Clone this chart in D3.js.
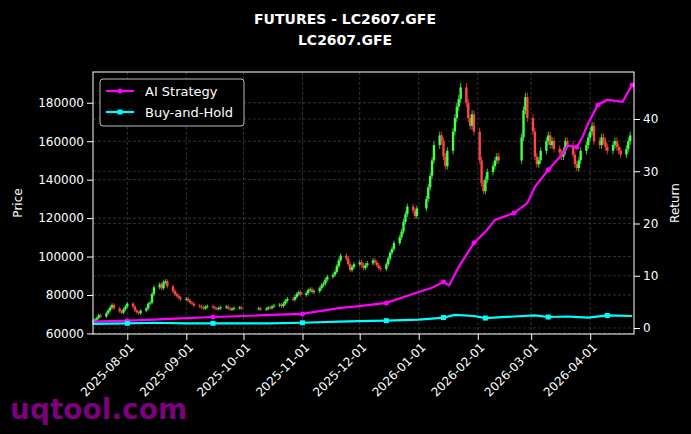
<!DOCTYPE html><html><head><meta charset="utf-8"><script src="https://cdn.jsdelivr.net/npm/d3@7"></script>
<style>body{margin:0;background:#000}svg{display:block}text{font-family:"DejaVu Sans",sans-serif}</style></head><body><svg id="c" width="691" height="434"></svg>
<script>
const segments=[
{start:"2025-07-14",closes:[66500,67200,68000,69500,68800,70500,72000,73500,74800,73000,71500,70800,72500,74000]},
{start:"2025-08-01",closes:[75500,74000,72000,71000,70500,71800,73000,75500,76000,80500,84000,85500,83500,86500,87200,84500,82000,80500,79500,78500,77800]},
{start:"2025-09-01",closes:[78000,77000,76000,75500,74500,74000,73500,73000,73800,74200,73500,73000,72800,73200,73600,74000,73000,72500,72800,73200,73500,73000]},
{start:"2025-10-09",closes:[73000,72500,72800,73500,73200,74000,74500,75000,74200,75500,77000,78000,77500,79000,80500,81500,80000]},
{start:"2025-11-03",closes:[81000,82500,83000,81500,82000,83500,85000,86000,88000,89500,90500,92000,95000,98000,100500,99000,96000,93000,94500,96000]},
{start:"2025-12-01",closes:[97000,95500,94000,95500,96500,98000,97000,95500,94000,93500,96000,99000,102000,104000,107000,110000,113000,118000,122000,126000,124000,121000,125000]},
{start:"2026-01-05",closes:[130000,136000,142000,150000,158000,163000,160000,152000,147000,155000,165000,172000,178000,182000,188000,180000,172000,168000,174000,165000]},
{start:"2026-02-02",closes:[150000,138000,134000,140000,144000,147000,150000,152000,150000]},
{start:"2026-02-24",closes:[162000,176000,183000,172000]},
{start:"2026-03-02",closes:[165000,152000,148000,150000,155000,160000,163000,158000,160000,156000,154000,152000,155000,160000,158000,153000,148000,146000,150000,155000,158000,162000]},
{start:"2026-04-01",closes:[165000,168000,160000,158000,162000,160000,157000,155000,158000,160000,157000,155000,153000,156000,160000,163000]}];
const aiDates=["2025-07-14","2025-08-01","2025-08-15","2025-09-01","2025-09-15","2025-10-01","2025-10-15","2025-11-01","2025-11-20","2025-12-01","2025-12-15","2026-01-01","2026-01-08","2026-01-14","2026-01-17","2026-01-22","2026-01-30","2026-02-05","2026-02-10","2026-02-20","2026-02-27","2026-03-03","2026-03-10","2026-03-18","2026-03-20","2026-03-25","2026-03-28","2026-03-31","2026-04-05","2026-04-10","2026-04-18","2026-04-23"];
const aiVals=[1.2,1.4,1.6,1.9,2.1,2.3,2.5,2.7,3.8,4.2,4.8,6.9,7.7,8.8,8.2,11.7,16.3,18.4,20.7,22,23.9,27,30.3,33.5,34.9,34.6,36.6,39.2,42.7,43.7,43.3,46.5];
const bhDates=["2025-07-14","2025-08-01","2025-08-15","2025-09-01","2025-09-15","2025-10-01","2025-10-15","2025-11-01","2025-11-20","2025-12-01","2025-12-15","2026-01-01","2026-01-08","2026-01-14","2026-01-20","2026-01-30","2026-02-05","2026-02-20","2026-03-03","2026-03-10","2026-03-20","2026-03-31","2026-04-10","2026-04-23"];
const bhVals=[0.8,0.9,1.0,0.9,0.9,0.9,0.9,1.0,1.2,1.3,1.4,1.6,1.8,2.0,2.5,2.3,1.9,2.2,2.4,2.1,2.2,2.0,2.4,2.3];
const priceTicks=[60000,80000,100000,120000,140000,160000,180000];
const retTicks=[0,10,20,30,40];
const dateTicks=["2025-08-01","2025-09-01","2025-10-01","2025-11-01","2025-12-01","2026-01-01","2026-02-01","2026-03-01","2026-04-01"];

const P=d3.timeParse("%Y-%m-%d");
const candles=[];
segments.forEach(s=>{let d=P(s.start);s.closes.forEach(c=>{while(d.getDay()==0||d.getDay()==6)d=d3.timeDay.offset(d,1);candles.push({d:new Date(d),c});d=d3.timeDay.offset(d,1);});});
candles.forEach((k,i)=>{k.o=i?candles[i-1].c:k.c*0.99;k.h=Math.max(k.o,k.c)*1.012;k.l=Math.min(k.o,k.c)*0.988;});

const svg=d3.select("#c");
svg.append("rect").attr("width",691).attr("height",434).attr("fill","#000");
const L=93,R=634,T=72,B=334;
const x=d3.scaleTime().domain([P("2025-07-14"),P("2026-04-24")]).range([L,R]);
const y=d3.scaleLinear().domain([59700,196000]).range([B,T]);
const y2=d3.scaleLinear().domain([-1.15,49]).range([B,T]);
const g=svg.append("g");
g.selectAll(".gx").data(dateTicks).join("line").attr("x1",d=>x(P(d))).attr("x2",d=>x(P(d))).attr("y1",T).attr("y2",B).attr("stroke","#555").attr("stroke-dasharray","3,2").attr("stroke-width",0.6);
g.selectAll(".gy").data(priceTicks).join("line").attr("x1",L).attr("x2",R).attr("y1",d=>y(d)).attr("y2",d=>y(d)).attr("stroke","#555").attr("stroke-dasharray","3,2").attr("stroke-width",0.6);
g.selectAll(".gy2").data(retTicks).join("line").attr("x1",L).attr("x2",R).attr("y1",d=>y2(d)).attr("y2",d=>y2(d)).attr("stroke","#444").attr("stroke-dasharray","3,2").attr("stroke-width",0.6);
const cg=svg.append("g");
candles.forEach(k=>{const col=k.c>=k.o?"#44ff44":"#ff4444";const cx=x(k.d);
cg.append("line").attr("x1",cx).attr("x2",cx).attr("y1",y(k.h)).attr("y2",y(k.l)).attr("stroke",col).attr("stroke-width",0.8);
cg.append("rect").attr("x",cx-1.2).attr("width",2.4).attr("y",y(Math.max(k.o,k.c))).attr("height",Math.max(1,Math.abs(y(k.o)-y(k.c)))).attr("fill",col);});
function series(dates,vals,col,shape){const pts=dates.map((d,i)=>[x(P(d)),y2(vals[i])]);
svg.append("path").attr("d",d3.line()(pts)).attr("fill","none").attr("stroke",col).attr("stroke-width",2.2);
pts.forEach((p,i)=>{if(i%3==1){if(shape=="c")svg.append("circle").attr("cx",p[0]).attr("cy",p[1]).attr("r",2.5).attr("fill",col);else svg.append("rect").attr("x",p[0]-2.5).attr("y",p[1]-2.5).attr("width",5).attr("height",5).attr("fill",col);}});}
series(aiDates,aiVals,"#ff00ff","c");
series(bhDates,bhVals,"#00ffff","s");
svg.append("rect").attr("x",L).attr("y",T).attr("width",R-L).attr("height",B-T).attr("fill","none").attr("stroke","#fff").attr("stroke-width",1);
const ax=svg.append("g").attr("transform",`translate(0,${B})`).call(d3.axisBottom(x).tickValues(dateTicks.map(P)).tickFormat(d3.timeFormat("%Y-%m-%d")).tickSizeOuter(0));
ax.selectAll("text").attr("transform","rotate(-45)").attr("text-anchor","end").attr("dx","-0.4em").attr("dy","0.5em");
const ay=svg.append("g").attr("transform",`translate(${L},0)`).call(d3.axisLeft(y).tickValues(priceTicks).tickFormat(d3.format("d")).tickSizeOuter(0));
const ay2=svg.append("g").attr("transform",`translate(${R},0)`).call(d3.axisRight(y2).tickValues(retTicks).tickSizeOuter(0));
[ax,ay,ay2].forEach(a=>{a.select(".domain").remove();a.selectAll("line").attr("stroke","#fff");a.selectAll("text").attr("fill","#fff").attr("font-size",12);});
svg.append("text").attr("x",345).attr("y",24).attr("text-anchor","middle").attr("fill","#fff").attr("font-weight","bold").attr("font-size",14).text("FUTURES - LC2607.GFE");
svg.append("text").attr("x",345).attr("y",45).attr("text-anchor","middle").attr("fill","#fff").attr("font-weight","bold").attr("font-size",14).text("LC2607.GFE");
svg.append("text").attr("transform","translate(22,203) rotate(-90)").attr("text-anchor","middle").attr("fill","#fff").attr("font-size",12).text("Price");
svg.append("text").attr("transform","translate(679,203) rotate(-90)").attr("text-anchor","middle").attr("fill","#fff").attr("font-size",12).text("Return");
const lg=svg.append("g");
lg.append("rect").attr("x",100).attr("y",79).attr("width",144).attr("height",47).attr("rx",3).attr("fill","#000").attr("stroke","#bbb");
[["AI Strategy","#ff00ff","c",91],["Buy-and-Hold","#00ffff","s",112]].forEach(([t,c,s,yy])=>{lg.append("line").attr("x1",106).attr("x2",134).attr("y1",yy).attr("y2",yy).attr("stroke",c).attr("stroke-width",2.2);
if(s=="c")lg.append("circle").attr("cx",120).attr("cy",yy).attr("r",2.5).attr("fill",c);else lg.append("rect").attr("x",117.5).attr("y",yy-2.5).attr("width",5).attr("height",5).attr("fill",c);
lg.append("text").attr("x",145).attr("y",yy+4.5).attr("fill","#fff").attr("font-size",13).text(t);});
svg.append("text").attr("x",10).attr("y",419).attr("fill","#8B008B").attr("font-weight","bold").attr("font-size",28).attr("opacity",0.9).text("uqtool.com");
</script></body></html>
